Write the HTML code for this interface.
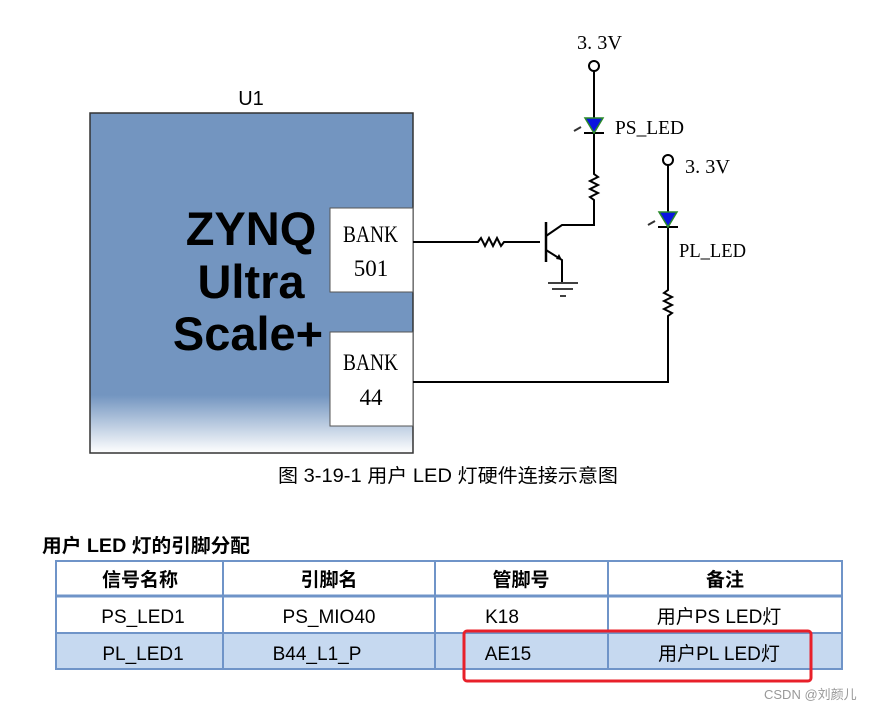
<!DOCTYPE html>
<html><head><meta charset="utf-8"><style>
body{margin:0;background:#fff;width:880px;height:712px;overflow:hidden}
svg{display:block}
</style></head><body>
<svg width="880" height="712" xmlns="http://www.w3.org/2000/svg" font-family="Liberation Sans, Noto Sans CJK SC, sans-serif">
<defs>
<linearGradient id="g" x1="0" y1="0" x2="0" y2="1">
<stop offset="0" stop-color="#7395c0"/>
<stop offset="0.83" stop-color="#7395c0"/>
<stop offset="1" stop-color="#ffffff"/>
</linearGradient>
</defs>
<text x="251" y="105" font-size="20" text-anchor="middle" fill="#000">U1</text>
<rect x="90" y="113" width="323" height="340" fill="url(#g)" stroke="#333" stroke-width="1.5"/>
<g font-weight="bold" font-size="47" text-anchor="middle" fill="#000">
<text x="251" y="245">ZYNQ</text>
<text x="251" y="298">Ultra</text>
<text x="248" y="350">Scale+</text>
</g>
<rect x="330" y="208" width="83" height="84" fill="#fff" stroke="#555"/>
<rect x="330" y="332" width="83" height="94" fill="#fff" stroke="#555"/>
<g font-family="Liberation Serif, serif" font-size="23" fill="#000">
<text x="343" y="242" textLength="55" lengthAdjust="spacingAndGlyphs">BANK</text><text x="371" y="276" text-anchor="middle">501</text>
<text x="343" y="370" textLength="55" lengthAdjust="spacingAndGlyphs">BANK</text><text x="371" y="405" text-anchor="middle">44</text>
</g>
<g stroke="#000" stroke-width="2" fill="none">
<path d="M413 242 H478 l3 -4 l4 8 l4 -8 l4 8 l4 -8 l4 8 l3 -4 H540"/>
<path d="M546 222 V262" stroke-width="2.5"/>
<path d="M546 236 L562 225 H594 V200 l-4 -3 l8 -4 l-8 -4 l8 -4 l-8 -4 l8 -4 l-4 -3 V132"/>
<path d="M594 118 V71"/>
<path d="M546 250 L562 260 V282"/>
<path d="M548 283 H578 M552 289 H573 M560 296 H566" stroke-width="1.5"/>
<path d="M668 165 V212 M668 226 V290 l-4 3 l8 4 l-8 4 l8 4 l-8 4 l8 4 l-4 3 V382 H413"/>
<path d="M584 133 H604 M658 227 H678"/>
</g>
<polygon points="556,259 562,260 559,254" fill="#000"/>
<circle cx="594" cy="66" r="5" fill="#fff" stroke="#000" stroke-width="2"/>
<circle cx="668" cy="160" r="5" fill="#fff" stroke="#000" stroke-width="2"/>
<polygon points="585,118 603,118 594,133" fill="#0a14e0" stroke="#2a8a2a" stroke-width="1.5"/>
<polygon points="659,212 677,212 668,227" fill="#0a14e0" stroke="#2a8a2a" stroke-width="1.5"/>
<path d="M574 131 l7 -4 M648 225 l7 -4" stroke="#333" stroke-width="2"/>
<g font-family="Liberation Serif, serif" font-size="20" fill="#000">
<text x="577" y="49" textLength="45" lengthAdjust="spacingAndGlyphs">3. 3V</text>
<text x="615" y="134" textLength="69" lengthAdjust="spacingAndGlyphs">PS_LED</text>
<text x="685" y="173" textLength="45" lengthAdjust="spacingAndGlyphs">3. 3V</text>
<text x="679" y="257" textLength="67" lengthAdjust="spacingAndGlyphs">PL_LED</text>
</g>
<text x="278" y="482" font-size="19" textLength="340" lengthAdjust="spacingAndGlyphs" fill="#000">图 3-19-1 用户 LED 灯硬件连接示意图</text>
<text x="42" y="552" font-size="19" font-weight="bold" textLength="208" lengthAdjust="spacingAndGlyphs" fill="#000">用户 LED 灯的引脚分配</text>
<rect x="56" y="634" width="786" height="35" fill="#c6d9f0"/>
<g stroke="#6f94c8" stroke-width="2" fill="none">
<rect x="56" y="561" width="786" height="108"/>
<path d="M56 596 H842" stroke-width="3"/>
<path d="M56 633 H842 M223 561 V669 M435 561 V669 M608 561 V669"/>
</g>
<g font-size="19" text-anchor="middle" fill="#000">
<text x="140" y="586" font-weight="bold">信号名称</text>
<text x="329" y="586" font-weight="bold">引脚名</text>
<text x="521" y="586" font-weight="bold">管脚号</text>
<text x="725" y="586" font-weight="bold">备注</text>
<text x="143" y="623">PS_LED1</text>
<text x="329" y="623">PS_MIO40</text>
<text x="502" y="623">K18</text>
<text x="719" y="623">用户PS LED灯</text>
<text x="143" y="660">PL_LED1</text>
<text x="317" y="660">B44_L1_P</text>
<text x="508" y="660">AE15</text>
<text x="719" y="660">用户PL LED灯</text>
</g>
<rect x="464" y="631" width="347" height="50" rx="3" fill="none" stroke="#e8202a" stroke-width="3"/>
<text x="764" y="699" font-size="13" fill="#999">CSDN @刘颜儿</text>
</svg>
</body></html>
